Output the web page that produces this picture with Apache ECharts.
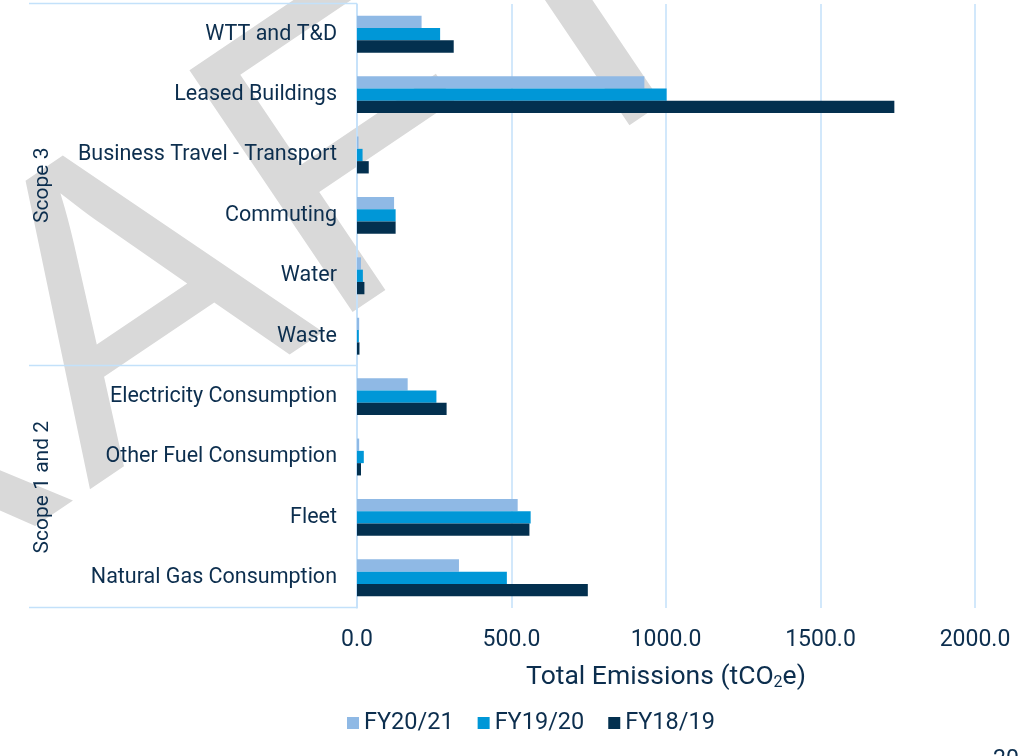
<!DOCTYPE html>
<html>
<head>
<meta charset="utf-8">
<script src="https://cdn.jsdelivr.net/npm/echarts@6/dist/echarts.min.js"></script>
<style>
html, body { margin: 0; padding: 0; background: #fff; }
#chart { width: 1025px; height: 756px; }
</style>
</head>
<body>
<div id="chart"></div>
<script>
// categories, top to bottom
var categories = ['WTT and T&D', 'Leased Buildings', 'Business Travel - Transport', 'Commuting', 'Water', 'Waste',
    'Electricity Consumption', 'Other Fuel Consumption', 'Fleet', 'Natural Gas Consumption'];
var fy2021 = [209, 930, 5, 120, 13, 7, 164, 7, 520, 330];
var fy1920 = [269, 1002, 18, 125, 19, 6, 257, 22, 562, 485];
var fy1819 = [313, 1739, 38, 125, 24, 8, 290, 13, 558, 747];
var seriesNames = ['FY20/21', 'FY19/20', 'FY18/19'];
var groupNames = ['Scope 3', 'Scope 1 and 2'];
var groupSizes = [6, 4];
var xTicks = [0, 500, 1000, 1500, 2000];

var textColor = '#0c2e4e';
var lineColor = '#c3e1fa';
var colors = ['#8fb9e5', '#0097d7', '#03304f'];
var font = 'Roboto';

var chart = echarts.init(document.getElementById('chart'));

chart.setOption({
    animation: false,
    textStyle: { fontFamily: font },
    grid: {
        left: 357, top: 4, width: 618, height: 604,
        containLabel: false, outerBoundsMode: 'none'
    },
    legend: {
        data: seriesNames,
        left: 342, top: 706,
        icon: 'rect', itemWidth: 12, itemHeight: 12, itemGap: 24,
        textStyle: { fontSize: 23.5, color: textColor, fontFamily: font }
    },
    xAxis: {
        type: 'value',
        min: xTicks[0], max: xTicks[xTicks.length - 1], interval: xTicks[1] - xTicks[0],
        axisLine: { show: false },
        axisTick: { show: false },
        splitLine: { lineStyle: { color: lineColor, width: 1.5 } },
        axisLabel: {
            fontSize: 23, color: textColor, margin: 21,
            formatter: function (v) { return v.toFixed(1); }
        },
        name: 'Total Emissions (tCO{sub|2}e)',
        nameLocation: 'middle',
        nameGap: 55,
        nameTextStyle: {
            fontSize: 26.5, color: textColor, fontFamily: font,
            rich: { sub: { fontSize: 16, color: textColor, fontFamily: font, padding: [12, 0, 0, 0] } }
        }
    },
    yAxis: {
        type: 'category',
        inverse: true,
        data: categories,
        axisLine: { lineStyle: { color: lineColor, width: 1.5 } },
        axisTick: { show: false },
        axisLabel: { fontSize: 21.5, color: textColor, margin: 20 }
    },
    series: [
        { name: seriesNames[0], type: 'bar', data: fy2021, barWidth: 12.3, barGap: '0%', itemStyle: { color: colors[0] } },
        { name: seriesNames[1], type: 'bar', data: fy1920, barWidth: 12.3, barGap: '0%', itemStyle: { color: colors[1] } },
        { name: seriesNames[2], type: 'bar', data: fy1819, barWidth: 12.3, barGap: '0%', itemStyle: { color: colors[2] } }
    ]
});

// group brackets and labels on the left, placed from the category axis
var x0 = chart.convertToPixel({ xAxisIndex: 0 }, 0);
var c0 = chart.convertToPixel({ yAxisIndex: 0 }, categories[0]);
var c1 = chart.convertToPixel({ yAxisIndex: 0 }, categories[1]);
var band = c1 - c0;
var graphics = [];

// DRAFT watermark behind the chart
graphics.push({
    type: 'text', x: 102, y: 340, rotation: 34 * Math.PI / 180, z: -10,
    style: {
        text: 'DRAFT', font: 'normal 424px "Liberation Sans"', fill: '#d9d9d9',
        align: 'center', verticalAlign: 'middle'
    }
});

var pos = 0;
var edges = [c0 - band / 2];
for (var g = 0; g < groupNames.length; g++) {
    var gTop = c0 + (pos - 0.5) * band;
    var gBottom = c0 + (pos + groupSizes[g] - 0.5) * band;
    edges.push(gBottom);
    graphics.push({
        type: 'text', x: 43, y: (gTop + gBottom) / 2, rotation: Math.PI / 2,
        style: { text: groupNames[g], font: '21px ' + font, fill: textColor, align: 'center', verticalAlign: 'middle' }
    });
    pos += groupSizes[g];
}
edges.forEach(function (y) {
    graphics.push({
        type: 'line', z: 5,
        shape: { x1: 29, y1: Math.round(y) - 0.5, x2: x0, y2: Math.round(y) - 0.5 },
        style: { stroke: lineColor, lineWidth: 1.5 }
    });
});

// page number, cut at the bottom
graphics.push({
    type: 'text', x: 993, y: 749,
    style: { text: '20', font: '23px ' + font, fill: textColor, align: 'left', verticalAlign: 'top' }
});

chart.setOption({ graphic: graphics });
</script>
</body>
</html>
